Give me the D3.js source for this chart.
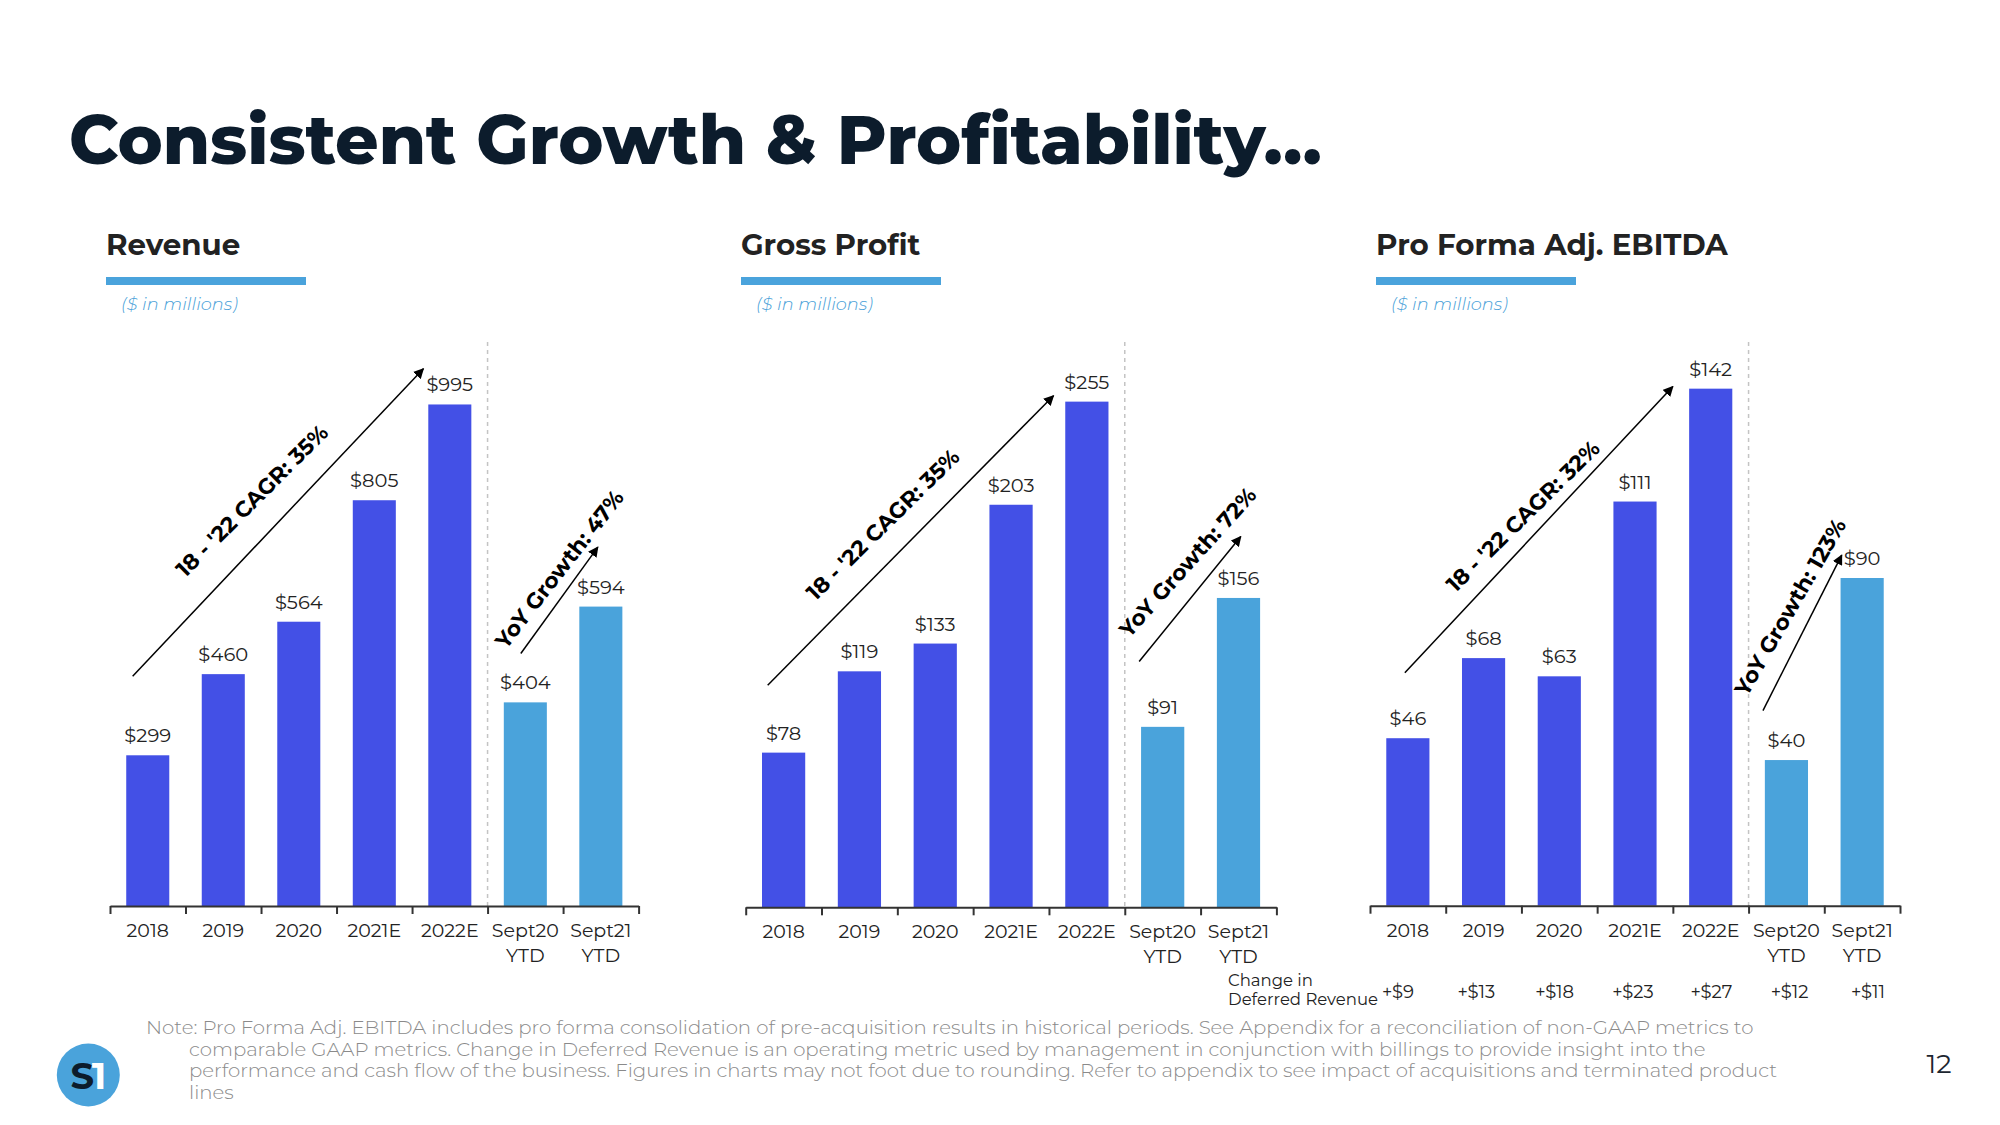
<!DOCTYPE html>
<html>
<head>
<meta charset="utf-8">
<script src="https://cdn.jsdelivr.net/npm/d3@7"></script>
<style>
  html, body { margin: 0; padding: 0; background: #ffffff; }
  svg { display: block; }
  text { font-family: Montserrat, Inter, "Open Sans", sans-serif; }
</style>
</head>
<body>
<svg id="chart" width="2000" height="1125"></svg>
<script>
// ---------------- DATA ----------------
const categories = ["2018", "2019", "2020", "2021E", "2022E", "Sept20 YTD", "Sept21 YTD"];
const categoryLines = [["2018"], ["2019"], ["2020"], ["2021E"], ["2022E"], ["Sept20", "YTD"], ["Sept21", "YTD"]];
const periodKind = ["annual", "annual", "annual", "annual", "annual", "ytd", "ytd"];

const revenue = [299, 460, 564, 805, 995, 404, 594];
const grossProfit = [78, 119, 133, 203, 255, 91, 156];
const proFormaEbitda = [46, 68, 63, 111, 142, 40, 90];
const deferredRevenueChange = [9, 13, 18, 23, 27, 12, 11];

const panelTitles = ["Revenue", "Gross Profit", "Pro Forma Adj. EBITDA"];

// growth annotations: [category position, value]
const revenueNotes = [
  { label: "18 - '22 CAGR: 35%", from: [0.30, 456], to: [4.15, 1066], at: [1.88, 804], angle: -45 },
  { label: "YoY Growth: 47%", from: [5.44, 501], to: [6.46, 712], at: [5.95, 668], angle: -52 }
];
const grossProfitNotes = [
  { label: "18 - '22 CAGR: 35%", from: [0.29, 112], to: [4.06, 258], at: [1.81, 193], angle: -44.5 },
  { label: "YoY Growth: 72%", from: [5.19, 124], to: [6.53, 187], at: [5.83, 174], angle: -48 }
];
const ebitdaNotes = [
  { label: "18 - '22 CAGR: 32%", from: [0.46, 64], to: [4.0, 142.6], at: [2.02, 107], angle: -44.5 },
  { label: "YoY Growth: 123%", from: [5.19, 53.6], to: [6.23, 96.3], at: [5.55, 82], angle: -60 }
];

const noteLines = [
  "Note: Pro Forma Adj. EBITDA includes pro forma consolidation of pre-acquisition results in historical periods. See Appendix for a reconciliation of non-GAAP metrics to",
  "comparable GAAP metrics. Change in Deferred Revenue is an operating metric used by management in conjunction with billings to provide insight into the",
  "performance and cash flow of the business. Figures in charts may not foot due to rounding. Refer to appendix to see impact of acquisitions and terminated product",
  "lines"
];

// ---------------- DRAW ----------------
const svg = d3.select("#chart");
const BAR_BLUE = "#4350e6", YTD_BLUE = "#4aa3db", ACCENT = "#4aa3dc";

svg.append("text")
  .attr("x", 69).attr("y", 164)
  .attr("font-size", 68).attr("font-weight", 800)
  .attr("fill", "#0c1c2c")
  .text("Consistent Growth & Profitability…");

const panels = [
  { title: panelTitles[0], tx: 106, x0: 110, x1: 638.6, axisY: 906, yMax: 1111, values: revenue, notes: revenueNotes },
  { title: panelTitles[1], tx: 741, x0: 745.7, x1: 1276.4, axisY: 907.3, yMax: 282.4, values: grossProfit, notes: grossProfitNotes },
  { title: panelTitles[2], tx: 1376, x0: 1370, x1: 1900, axisY: 905.7, yMax: 153.8, values: proFormaEbitda, notes: ebitdaNotes }
];

const defs = svg.append("defs");
defs.append("marker")
  .attr("id", "arrowHead")
  .attr("viewBox", "0 0 10 10")
  .attr("refX", 9).attr("refY", 5)
  .attr("markerWidth", 7).attr("markerHeight", 7)
  .attr("markerUnits", "strokeWidth")
  .attr("orient", "auto")
  .append("path").attr("d", "M0,0 L10,5 L0,10 Z").attr("fill", "#000");

panels.forEach(p => {
  const g = svg.append("g");

  // header
  g.append("text").attr("x", p.tx).attr("y", 255)
    .attr("font-size", 29.3).attr("font-weight", 700).attr("fill", "#222")
    .text(p.title);
  g.append("rect").attr("x", p.tx).attr("y", 277).attr("width", 200).attr("height", 8).attr("fill", ACCENT);
  g.append("text").attr("x", p.tx + 15).attr("y", 310)
    .attr("font-size", 17.8).attr("font-style", "italic").attr("font-weight", 300).attr("fill", "#4a9fd8")
    .text("($ in millions)");

  const band = d3.scaleBand().domain(categories).range([p.x0, p.x1]).paddingInner(0.43).paddingOuter(0.215);
  const pos = d3.scaleLinear().domain([0, categories.length]).range([p.x0, p.x1]);
  const y = d3.scaleLinear().domain([0, p.yMax]).range([p.axisY, p.axisY - 560]);

  // divider between annual and YTD
  const divX = pos(5);
  g.append("line").attr("x1", divX).attr("x2", divX).attr("y1", 342).attr("y2", p.axisY)
    .attr("stroke", "#c4c4c4").attr("stroke-width", 1.5).attr("stroke-dasharray", "4,4");

  // bars
  g.selectAll("rect.bar").data(p.values).join("rect").attr("class", "bar")
    .attr("x", (d, i) => band(categories[i]))
    .attr("width", band.bandwidth())
    .attr("y", d => y(d))
    .attr("height", d => y(0) - y(d))
    .attr("fill", (d, i) => periodKind[i] === "ytd" ? YTD_BLUE : BAR_BLUE);

  // value labels
  g.selectAll("text.val").data(p.values).join("text").attr("class", "val")
    .attr("x", (d, i) => band(categories[i]) + band.bandwidth() / 2)
    .attr("y", d => y(d) - 13)
    .attr("text-anchor", "middle").attr("font-size", 19.5).attr("fill", "#222")
    .text(d => "$" + d);

  // axis
  const axis = d3.axisBottom(pos).tickValues(d3.range(0, categories.length + 1))
    .tickFormat("").tickSize(8).tickSizeOuter(0);
  const ag = g.append("g").attr("transform", `translate(0,${p.axisY})`).call(axis);
  ag.select(".domain").attr("stroke", "#333").attr("stroke-width", 2);
  ag.selectAll(".tick line").attr("stroke", "#333").attr("stroke-width", 2);

  // category labels
  categoryLines.forEach((lines, i) => {
    const t = g.append("text")
      .attr("x", band(categories[i]) + band.bandwidth() / 2)
      .attr("y", p.axisY + 31)
      .attr("text-anchor", "middle").attr("font-size", 19).attr("fill", "#222");
    lines.forEach((ln, k) => t.append("tspan")
      .attr("x", band(categories[i]) + band.bandwidth() / 2)
      .attr("dy", k === 0 ? 0 : 25).text(ln));
  });

  // growth arrows
  p.notes.forEach(n => {
    g.append("line")
      .attr("x1", pos(n.from[0])).attr("y1", y(n.from[1]))
      .attr("x2", pos(n.to[0])).attr("y2", y(n.to[1]))
      .attr("stroke", "#000").attr("stroke-width", 1.5)
      .attr("marker-end", "url(#arrowHead)");
    g.append("text")
      .attr("transform", `translate(${pos(n.at[0])},${y(n.at[1])}) rotate(${n.angle})`)
      .attr("text-anchor", "middle").attr("dy", "0.35em")
      .attr("font-size", 22).attr("font-weight", 700).attr("fill", "#000")
      .text(n.label);
  });
});

// Deferred revenue row under EBITDA chart
const drevX = d3.scalePoint().domain(categories).range([1398, 1868]);
svg.append("text").attr("x", 1228).attr("y", 986).attr("font-size", 16.5).attr("fill", "#222").text("Change in");
svg.append("text").attr("x", 1228).attr("y", 1005).attr("font-size", 16.5).attr("fill", "#222").text("Deferred Revenue");
svg.selectAll("text.drev").data(deferredRevenueChange).join("text").attr("class", "drev")
  .attr("x", (d, i) => drevX(categories[i]))
  .attr("y", 998)
  .attr("text-anchor", "middle").attr("font-size", 18).attr("fill", "#222")
  .text(d => "+$" + d);

// footnote
const note = svg.append("text").attr("font-size", 19.7).attr("font-weight", 300).attr("fill", "#8a8a8a");
noteLines.forEach((ln, i) => {
  note.append("tspan").attr("x", i === 0 ? 146 : 189).attr("y", 1034 + i * 21.7).text(ln);
});

// logo
svg.append("circle").attr("cx", 88.3).attr("cy", 1075).attr("r", 31.5).attr("fill", YTD_BLUE);
const logo = svg.append("text").attr("x", 88.3).attr("y", 1088.5).attr("text-anchor", "middle")
  .attr("font-size", 37).attr("font-weight", 700);
logo.append("tspan").attr("fill", "#0c1c2c").text("S");
logo.append("tspan").attr("fill", "#ffffff").attr("dx", -2).text("1");

// page number
svg.append("text").attr("x", 1939).attr("y", 1073).attr("text-anchor", "middle")
  .attr("font-size", 27).attr("fill", "#1c2630").text("12");
</script>
</body>
</html>
